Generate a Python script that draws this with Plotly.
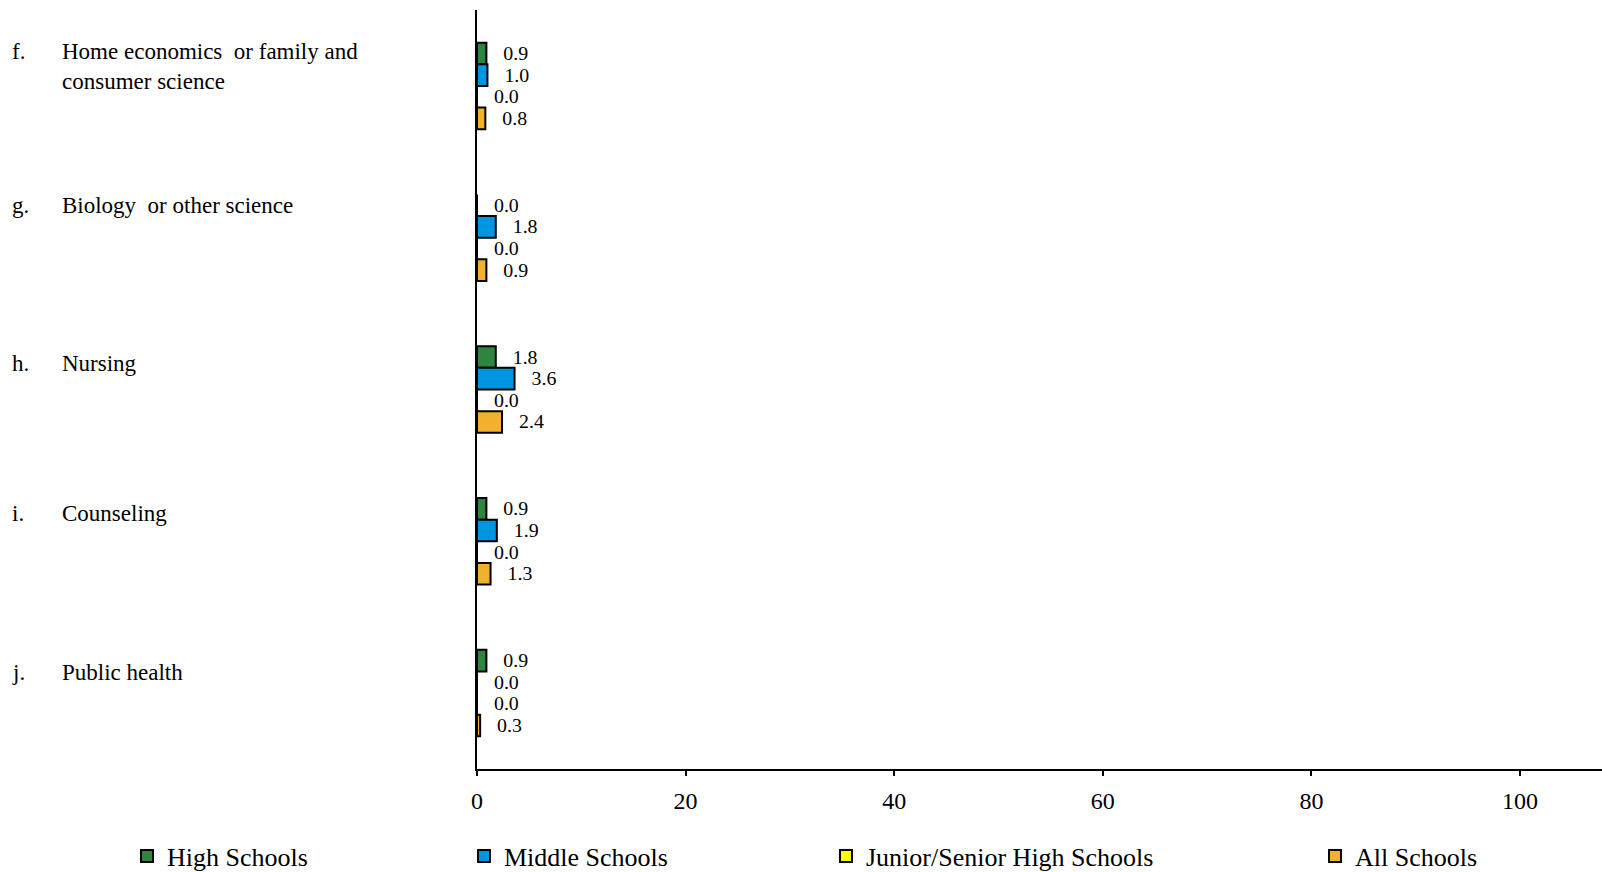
import plotly.graph_objects as go

letters = ["f.", "g.", "h.", "i.", "j."]
labels = ["Home economics  or family and<br>consumer science", "Biology  or other science",
          "Nursing", "Counseling", "Public health"]
categories = ["f", "g", "h", "i", "j"]

series_names = ["High Schools", "Middle Schools", "Junior/Senior High Schools", "All Schools"]
high_schools = [0.9, 0.0, 1.8, 0.9, 0.9]
middle_schools = [1.0, 1.8, 3.6, 1.9, 0.0]
junior_senior = [0.0, 0.0, 0.0, 0.0, 0.0]
all_schools = [0.8, 0.9, 2.4, 1.3, 0.3]
colors = ["#2E8540", "#0096DF", "#FFFF00", "#F0B12E"]
x_ticks = [0, 20, 40, 60, 80, 100]

# layout helpers (pixel positions within the page)
label_yshift = [49, 47, 41, 42, 35]
legend_left_px = [127, 464, 826, 1315]

FONT = "Liberation Serif, Times New Roman, serif"
W, H = 1602, 872
L, R, T, B = 477, 0, 10, 103
plot_w = W - L - R
plot_h = H - T - B
px_per_unit = (1520 - 477) / 100.0
x_max = plot_w / px_per_unit

fig = go.Figure()
series = [high_schools, middle_schools, junior_senior, all_schools]
legend_ids = ["legend", "legend2", "legend3", "legend4"]
for name, vals, col, lg in zip(series_names, series, colors, legend_ids):
    fig.add_trace(go.Bar(
        y=categories, x=vals, name=name, orientation="h",
        marker=dict(color=col, line=dict(color="black", width=2)),
        text=[f"{v:.1f}" for v in vals],
        texttemplate="\u00a0\u00a0\u2009%{text}",
        textposition="outside", cliponaxis=False,
        textfont=dict(family=FONT, size=23, color="black"),
        legend=lg,
    ))

for cat, let, lab, ys in zip(categories, letters, labels, label_yshift):
    fig.add_annotation(x=(10 - L) / plot_w, xref="paper", y=cat, yref="y",
                       text=let, showarrow=False, xanchor="left", yanchor="top",
                       yshift=ys, font=dict(family=FONT, size=23, color="black"), align="left")
    fig.add_annotation(x=(60 - L) / plot_w, xref="paper", y=cat, yref="y",
                       text=lab, showarrow=False, xanchor="left", yanchor="top",
                       yshift=ys, font=dict(family=FONT, size=23, color="black"), align="left")

leg_common = dict(orientation="h", yanchor="middle", xanchor="left",
                  font=dict(family=FONT, size=26, color="black"), bgcolor="rgba(0,0,0,0)")
layout_legends = {}
for lg, lx in zip(legend_ids, legend_left_px):
    layout_legends[lg] = dict(leg_common, x=(lx - L) / plot_w, y=-(856 - (H - B)) / plot_h)

fig.update_layout(
    width=W, height=H,
    margin=dict(l=L, r=R, t=T, b=B, autoexpand=False),
    paper_bgcolor="white", plot_bgcolor="white",
    barmode="group", bargap=0.43, bargroupgap=0,
    font=dict(family=FONT, color="black"),
    showlegend=True,
    xaxis=dict(range=[0, x_max], tickvals=x_ticks, showgrid=False, zeroline=False,
               showline=True, linecolor="black", linewidth=2,
               ticks="outside", ticklen=5, tickwidth=2, tickcolor="black",
               ticklabelstandoff=4,
               tickfont=dict(family=FONT, size=24, color="black")),
    yaxis=dict(autorange="reversed", showticklabels=False, showgrid=False, zeroline=False,
               showline=True, linecolor="black", linewidth=2, ticks=""),
    **layout_legends,
)

fig.write_html("out.html", config={"displayModeBar": False},
               post_script="document.body.style.margin='0';document.body.style.overflow='hidden';")
